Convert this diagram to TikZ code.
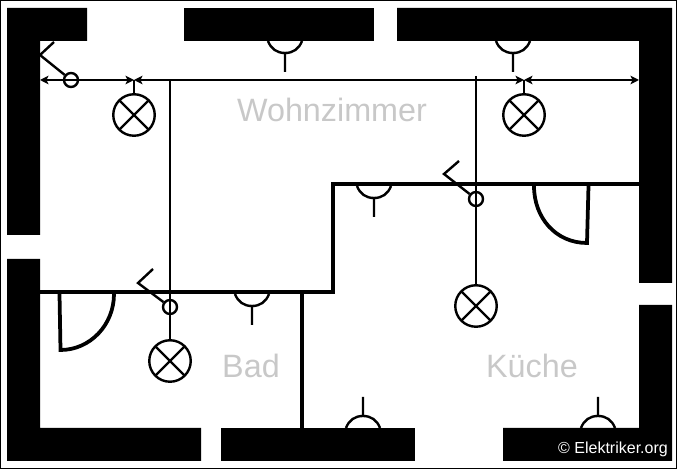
\documentclass[tikz,border=0pt]{standalone}
\usepackage{fontspec}
\setmainfont{Liberation Sans}
\usetikzlibrary{arrows.meta}
\definecolor{roomgray}{HTML}{C8C8C8}
\tikzset{
  wall/.style={fill=black},
  partition/.style={line width=0.085cm,line join=miter},
  door/.style={line width=0.075cm,line join=miter},
  wire/.style={line width=0.048cm},
  lamp/.style={circle,draw,line width=0.048cm,inner sep=0pt,minimum size=0.83cm,
    path picture={
      \draw [line width=0.048cm] (path picture bounding box.north west) -- (path picture bounding box.south east);
      \draw [line width=0.048cm] (path picture bounding box.north east) -- (path picture bounding box.south west);
    }},
  switchdot/.style={circle,draw,line width=0.048cm,inner sep=0pt,minimum size=0.28cm},
  roomlabel/.style={text=roomgray,font=\fontsize{18.4}{20}\selectfont},
  measure/.style={wire,{Stealth[length=0.17cm,width=0.17cm,inset=0.04cm]}-{Stealth[length=0.17cm,width=0.17cm,inset=0.04cm]}}
}
\begin{document}
\begin{tikzpicture}[x=0.02cm,y=-0.02cm]
\useasboundingbox (0,0) rectangle (677,469);
\draw [line width=0.02cm] (0.5,0.5) rectangle (676.5,468.5);
% outer walls
\fill [wall] (7,8) -- (87,8) -- (87,41) -- (40,41) -- (40,235) -- (7,235) -- cycle;
\fill [wall] (184,8) rectangle (374,41);
\fill [wall] (397,8) -- (672,8) -- (672,283) -- (639,283) -- (639,41) -- (397,41) -- cycle;
\fill [wall] (7,259) -- (40,259) -- (40,428) -- (201,428) -- (201,461) -- (7,461) -- cycle;
\fill [wall] (221,428) rectangle (415,461);
\fill [wall] (639,305) -- (672,305) -- (672,461) -- (503,461) -- (503,428) -- (639,428) -- cycle;
% inner walls
\draw [partition] (40,292) -- (333,292) -- (333,184) -- (639,184);
\draw [partition] (302,292) -- (302,428);
% doors
\draw [door] (59.5,294) -- (60.5,350) .. controls (90,350) and (114,325) .. (114,294);
\draw [door] (534,186) .. controls (534,218) and (556,243) .. (587,243) -- (588.5,186);
% sockets
\foreach \name/\posx/\posy/\dir in {sockA/285/41/1,sockB/513/41/1,sockC/374/186/1,sockD/252/294/1,sockE/363/428/-1,sockF/598/428/-1}{
  \coordinate (\name) at (\posx,\posy);
  \draw [wire,shift={(\name)},yscale=\dir] (-17,0) .. controls (-14,8) and (-8,12) .. (0,12) .. controls (8,12) and (14,8) .. (17,0) (0,12) -- (0,31);
}
% lamps and switches
\node (lampA) at (134,115) [lamp] {};
\node (lampB) at (524,115) [lamp] {};
\node (lampC) at (170,361) [lamp] {};
\node (lampD) at (476,306) [lamp] {};
\node (switchA) at (71,80) [switchdot] {};
\node (switchB) at (476,199) [switchdot] {};
\node (switchC) at (170,307) [switchdot] {};
\coordinate (kneeA) at (40,55);
\coordinate (tipA) at (54,42);
\coordinate (kneeB) at (444,174);
\coordinate (tipB) at (459,161);
\coordinate (kneeC) at (138,283);
\coordinate (tipC) at (153,269);
\draw [wire,line join=miter] (tipA) -- (kneeA) -- (switchA);
\draw [wire,line join=miter] (tipB) -- (kneeB) -- (switchB);
\draw [wire,line join=miter] (tipC) -- (kneeC) -- (switchC);
% measures and wires
\coordinate (railA) at (40,80);
\coordinate (railB) at (134,80);
\coordinate (railC) at (524,80);
\coordinate (railD) at (639,80);
\coordinate (railE) at (170,80);
\coordinate (railF) at (476,76);
\draw [measure] (railA) -- (railB);
\draw [measure] (railB) -- (railC);
\draw [measure] (railC) -- (railD);
\draw [wire] (railB) -- (lampA);
\draw [wire] (railC) -- (lampB);
\draw [wire] (railE) -- (lampC);
\draw [wire] (railF) -- (lampD);
% labels
\node (labelLiving) at (332,110) [roomlabel] {Wohnzimmer};
\node (labelBath) at (251,366) [roomlabel] {Bad};
\node (labelKitchen) at (532,366) [roomlabel] {Küche};
\node (labelCopy) at (613,449) [text=white,font=\fontsize{9.1}{11}\selectfont] {© Elektriker.org};
\end{tikzpicture}
\end{document}
